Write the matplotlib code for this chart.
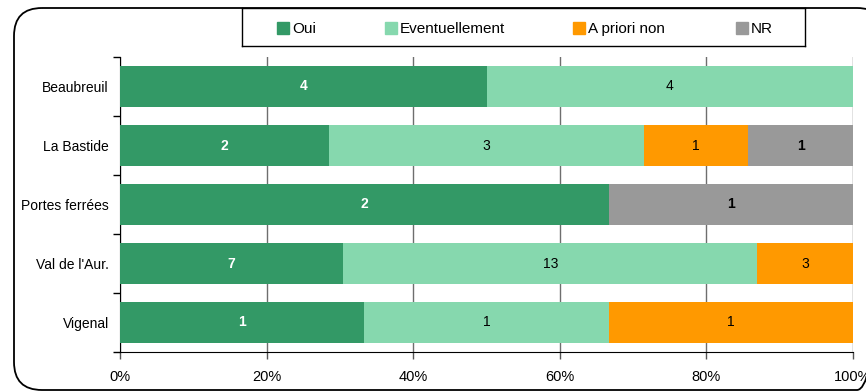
import matplotlib
matplotlib.use("Agg")
import matplotlib.pyplot as plt
import numpy as np
from matplotlib.patches import FancyBboxPatch, Rectangle
from matplotlib.ticker import FuncFormatter, FixedLocator

plt.rcParams['font.family'] = ['Liberation Sans', 'DejaVu Sans']

categories = ["Beaubreuil", "La Bastide", "Portes ferrées", "Val de l'Aur.", "Vigenal"]
series_names = ["Oui", "Eventuellement", "A priori non", "NR"]
oui = [4, 2, 2, 7, 1]
eventuellement = [4, 3, 0, 13, 1]
a_priori_non = [0, 1, 0, 3, 1]
nr = [0, 1, 1, 0, 0]
x_ticks = [0, 20, 40, 60, 80, 100]

colors = ["#339966", "#86d8ae", "#ff9900", "#999999"]
label_colors = ["white", "black", "black", "black"]
label_weights = ["bold", "normal", "normal", "bold"]

W, H = 866, 392
fig = plt.figure(figsize=(W / 100, H / 100), dpi=100)

# background layer in pixel units for the rounded outer frame
bg = fig.add_axes([0, 0, 1, 1], zorder=-1)
bg.set_xlim(0, W)
bg.set_ylim(H, 0)
bg.axis("off")
bg.add_patch(FancyBboxPatch((14, 8), 871, 382,
                            boxstyle="round,pad=0,rounding_size=28",
                            fill=False, edgecolor="black", linewidth=1.3))

ax = fig.add_axes([120 / W, 1 - 352 / H, 733 / W, 295 / H])

data = np.array([oui, eventuellement, a_priori_non, nr], dtype=float)
totals = data.sum(axis=0)
pct = data / totals * 100
y = np.arange(len(categories))
left = np.zeros(len(categories))
for i, name in enumerate(series_names):
    ax.barh(y, pct[i], left=left, height=0.68, color=colors[i],
            edgecolor="none", zorder=3, label=name)
    for j in range(len(categories)):
        if data[i, j] > 0:
            ax.text(left[j] + pct[i, j] / 2, y[j], f"{int(data[i, j])}",
                    ha="center", va="center", fontsize=10,
                    color=label_colors[i], fontweight=label_weights[i],
                    zorder=4)
    left += pct[i]

ax.set_xlim(0, 100)
ax.set_ylim(len(categories) - 0.5, -0.5)
ax.set_yticks(y)
ax.set_yticklabels(categories, fontsize=10)
ax.yaxis.set_minor_locator(FixedLocator(np.arange(-0.5, len(categories), 1)))
ax.tick_params(axis="y", which="major", length=0, pad=8)
ax.tick_params(axis="y", which="minor", length=5, width=1, color="black")
ax.set_xticks(x_ticks)
ax.xaxis.set_major_formatter(FuncFormatter(lambda v, p: f"{int(v)}%"))
ax.tick_params(axis="x", length=5, width=1, color="#555555", labelsize=10.5, pad=8)
ax.grid(axis="x", color="#6e6e6e", linewidth=1, zorder=0)
for s in ["top", "right"]:
    ax.spines[s].set_visible(False)
ax.spines["left"].set_color("black")
ax.spines["bottom"].set_color("black")

# legend box at the top
lax = fig.add_axes([242 / W, 1 - 46 / H, 563 / W, 38 / H])
lax.set_xlim(0, 563)
lax.set_ylim(0, 38)
lax.set_xticks([])
lax.set_yticks([])
for s in lax.spines.values():
    s.set_color("black")
    s.set_linewidth(1)
entry_x = [35, 143, 331, 494]
for i, name in enumerate(series_names):
    lax.add_patch(Rectangle((entry_x[i], 12), 12, 12, color=colors[i]))
    lax.text(entry_x[i] + 15, 17, name, ha="left", va="center", fontsize=11)

fig.savefig("out.png", dpi=100)
